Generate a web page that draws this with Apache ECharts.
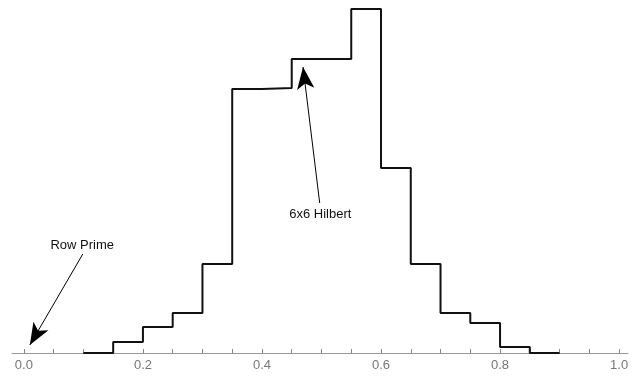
<!DOCTYPE html>
<html>
<head>
<meta charset="utf-8">
<script src="https://cdn.jsdelivr.net/npm/echarts@6/dist/echarts.min.js"></script>
<style>html,body{margin:0;padding:0;background:#fff}#c{width:640px;height:376px}</style>
</head>
<body>
<div id="c"></div>
<script>
// bin left edges and heights of the step histogram
var binEdges = [0.10, 0.15, 0.20, 0.25, 0.30, 0.35, 0.40, 0.45, 0.50, 0.55, 0.60, 0.65, 0.70, 0.75, 0.80, 0.85, 0.90];
var binValues = [0, 11, 26, 40, 89, 264, 265, 294, 294, 344, 185, 89, 40, 30, 6, 0, 0];
var tickLabels = [0, 0.2, 0.4, 0.6, 0.8, 1.0];
var minorTicks = [0, 0.05, 0.1, 0.15, 0.2, 0.25, 0.3, 0.35, 0.4, 0.45, 0.5, 0.55, 0.6, 0.65, 0.7, 0.75, 0.8, 0.85, 0.9, 0.95, 1.0];
var annotations = [
  {name: 'Row Prime', text: [0.098, 108], tail: [0.099, 99], tip: [0.010, 8]},
  {name: '6x6 Hilbert', text: [0.498, 139], tail: [0.497, 150], tip: [0.469, 286]}
];

var data = binEdges.map(function (x, i) { return [x, binValues[i]]; });
var chart = echarts.init(document.getElementById('c'), null, {renderer: 'canvas'});
chart.setOption({
  animation: false,
  grid: {left: 12, right: 12, top: 0, bottom: 23},
  xAxis: {
    type: 'value', min: -0.02, max: 1.015,
    splitLine: {show: false},
    axisLine: {lineStyle: {color: '#999', width: 1}},
    axisTick: {inside: true, length: 4, customValues: minorTicks, lineStyle: {color: '#888'}},
    axisLabel: {customValues: tickLabels, color: '#777', fontSize: 13, margin: 6,
      fontFamily: 'Liberation Sans, Arial, sans-serif',
      formatter: function (v) { return v.toFixed(1); }}
  },
  yAxis: {type: 'value', min: 0, max: 353, show: false},
  series: [{
    type: 'line', step: 'end', data: data, symbol: 'none',
    lineStyle: {color: '#111', width: 2},
    markLine: {
      silent: true, animation: false,
      lineStyle: {color: '#000', width: 1, type: 'solid'},
      label: {show: false},
      symbol: ['none', 'arrow'], symbolSize: [13, 22],
      data: annotations.map(function (a) {
        return [{coord: a.tail}, {coord: a.tip}];
      })
    },
    markPoint: {
      silent: true, symbol: 'circle', symbolSize: 0,
      label: {show: true, position: 'inside', color: '#111', fontSize: 13,
        fontFamily: 'Liberation Sans, Arial, sans-serif',
        formatter: function (p) { return p.name; }},
      data: annotations.map(function (a) { return {name: a.name, coord: a.text}; })
    }
  }]
});
</script>
</body>
</html>
